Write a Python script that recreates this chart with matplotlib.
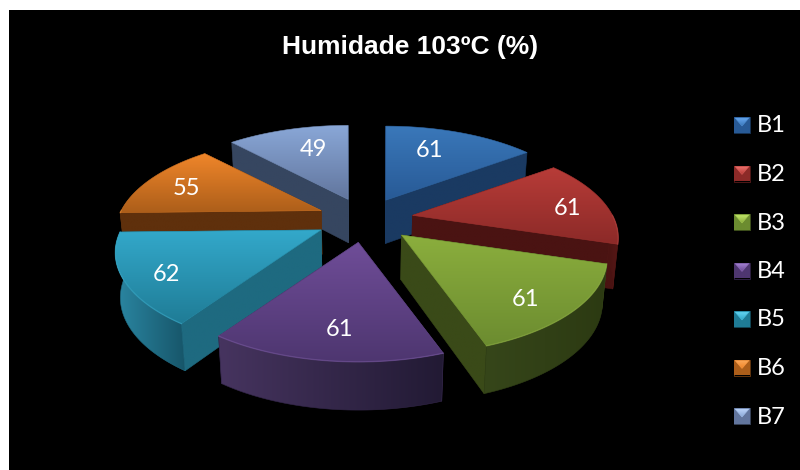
import numpy as np
import matplotlib.pyplot as plt
from matplotlib.colors import to_rgb
from matplotlib.patches import Polygon, Rectangle

plot_filename = 'out.png'

title = 'Humidade 103ºC (%)'
labels = ['B1', 'B2', 'B3', 'B4', 'B5', 'B6', 'B7']
values = [61, 61, 61, 61, 62, 55, 49]

# top gradient start/end, cut face, outer wall left/right, legend light
top_hi = ['#3a78ba', '#b83c38', '#8bae3d', '#6f4d98', '#33a8ca', '#f0862a', '#8aa8d8']
top_lo = ['#285a96', '#8c2a28', '#6c8c30', '#4e3670', '#1f7c96', '#ac5e1a', '#62769e']
cut_col = ['#1a3a62', '#4a1312', '#3a4a18', '#33254a', '#1e6a80', '#5f300c', '#364660']
wall_l = ['#1a3a62', '#4a1312', '#36461a', '#46345f', '#2b87a3', '#5f300c', '#364660']
wall_r = ['#1a3a62', '#561816', '#2c3a12', '#221a34', '#17566a', '#5f300c', '#364660']
edge_col = ['#4d8ccc', '#cc5450', '#a0c050', '#8a68b4', '#46bcdc', '#f89a40', '#a0bce8']
swatch_hi = ['#66a6ee', '#f07470', '#c0e468', '#a684d4', '#62d4f0', '#fcaa5c', '#bcd4f8']

# pie geometry
cx, cy = 365, 219
rx, ry = 200, 91.4
persp = 0.235
explode = 0.243
height = 44
label_r = 0.72
# value labels sit a little off the radial line of each slice
label_shift = [(-13, 1), (17, 4), (6, 13), (4, 9), (-17, 10), (-10, 2), (11, 3)]

fig = plt.figure(figsize=(8, 4.7), dpi=100, facecolor='white')
ax = fig.add_axes([0, 0, 1, 1])
ax.axis('off')
z = [1]


def project(r, ang):
    # ang is in degrees, clockwise from the top of the pie
    a = np.radians(ang)
    x, y = r * np.sin(a), r * np.cos(a)
    s = 1 / (1 + persp * y)
    return np.column_stack([rx * x * s, -ry * y * s]) if np.ndim(ang) else np.array([rx * x * s, -ry * y * s])


def drop(pts):
    # extrude a top outline down to the base of the slice
    out = pts.copy()
    out[:, 0] = cx + (pts[:, 0] - cx) * 0.98
    out[:, 1] = pts[:, 1] + height + (pts[:, 1] - cy) * 0.03
    return out


def fill_gradient(pts, c0, c1, vertical=True):
    c0, c1 = np.array(to_rgb(c0)), np.array(to_rgb(c1))
    t = np.linspace(0, 1, 64)[:, None]
    ramp = c0 + (c1 - c0) * t
    grad = ramp[:, None, :] if vertical else ramp[None, :, :]
    x0, y0 = pts.min(axis=0)
    x1, y1 = pts.max(axis=0)
    z[0] += 1
    im = ax.imshow(grad, extent=[x0, x1, y1, y0], aspect='auto', zorder=z[0], interpolation='bilinear')
    im.set_clip_path(Polygon(pts, closed=True, transform=ax.transData))
    mid = (c0 + c1) / 2
    ax.add_patch(Polygon(pts, closed=True, fill=False, ec=mid, lw=0.4, zorder=z[0]))


ax.add_patch(Rectangle((9, 10), 800, 470, fc='black', ec='none', zorder=0))

bounds = np.concatenate([[0], np.cumsum(values)]) / sum(values) * 360
mids = (bounds[:-1] + bounds[1:]) / 2
tips = [np.array([cx, cy]) + project(explode, m) for m in mids]

for i in [6, 0, 5, 1, 4, 2, 3]:
    start, end = bounds[i], bounds[i + 1]
    tip = tips[i]
    arc = tip + project(1.0, np.linspace(start, end, 60))
    top = np.vstack([tip, arc])

    # the two cut faces, furthest first
    faces = []
    for ang, end_pt in ((start, arc[0]), (end, arc[-1])):
        quad = np.array([tip, end_pt])
        faces.append((np.cos(np.radians(ang)), np.vstack([quad, drop(quad)[::-1]])))
    for _, quad in sorted(faces, key=lambda f: -f[0]):
        fill_gradient(quad, cut_col[i], cut_col[i])

    # curved outer wall, only where it faces the viewer
    lo, hi = max(start, 90), min(end, 270)
    if hi > lo:
        rim = tip + project(1.0, np.linspace(lo, hi, 60))
        wall = np.vstack([rim, drop(rim)[::-1]])
        fill_gradient(wall, wall_l[i], wall_r[i], vertical=False)

    fill_gradient(top, top_hi[i], top_lo[i])
    if hi > lo:
        z[0] += 1
        ax.plot(rim[:, 0], rim[:, 1], color=edge_col[i], lw=1.0, alpha=0.35, zorder=z[0])

for i in range(len(values)):
    p = tips[i] + project(label_r, mids[i]) + np.array(label_shift[i])
    ax.text(p[0], p[1], str(values[i]), color='white', fontsize=17, family='Lato',
            ha='center', va='center', zorder=500)

ax.text(410.5, 47, title, color='white', fontsize=19, family='Liberation Sans', weight='bold',
        ha='center', va='center', zorder=500)

# legend
legend_y = np.linspace(125, 416, len(labels))
sw = 16
for i, name in enumerate(labels):
    y = legend_y[i]
    x0, y0 = 734, y - sw / 2
    fill_gradient(np.array([[x0, y0], [x0 + sw, y0], [x0 + sw, y0 + sw], [x0, y0 + sw]]), top_lo[i], top_lo[i])
    fill_gradient(np.array([[x0 + 1, y0 + 1], [x0 + sw - 1, y0 + 1], [x0 + sw / 2, y0 + sw / 2 + 1]]),
                  swatch_hi[i], top_hi[i])
    ax.text(757, y + 1, name, color='white', fontsize=17, family='Lato', ha='left', va='center', zorder=500)

ax.set_xlim(0, 800)
ax.set_ylim(470, 0)

fig.savefig(plot_filename, dpi=100, facecolor='white')
